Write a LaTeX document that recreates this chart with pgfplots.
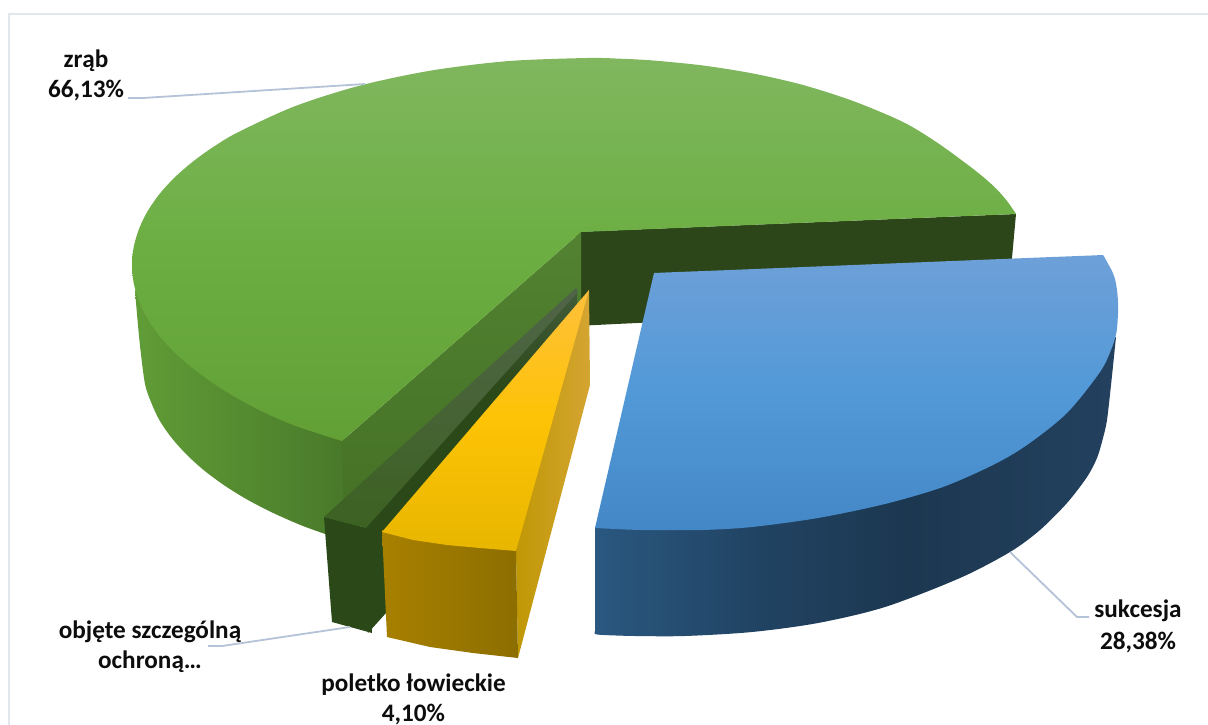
\documentclass[border=0pt]{standalone}
\usepackage{fontspec}
\setmainfont{Carlito}
\usepackage{pgfplots}
\pgfplotsset{compat=1.18}
\definecolor{gt1}{RGB}{98,160,54}\definecolor{gt2}{RGB}{108,174,66}\definecolor{gt3}{RGB}{128,183,95}
\definecolor{gs1}{RGB}{96,156,54}\definecolor{gs2}{RGB}{80,132,46}\definecolor{gs3}{RGB}{72,120,40}
\definecolor{gi1}{RGB}{68,112,36}\definecolor{gi2}{RGB}{82,130,50}
\definecolor{back}{RGB}{45,70,25}
\definecolor{dt1}{RGB}{60,98,34}\definecolor{dt2}{RGB}{80,100,72}
\definecolor{ds1}{RGB}{43,72,24}\definecolor{ds2}{RGB}{66,92,58}
\definecolor{df}{RGB}{43,72,24}
\definecolor{yt1}{RGB}{232,182,0}\definecolor{yt2}{RGB}{253,195,5}\definecolor{yt3}{RGB}{255,192,60}
\definecolor{ys1}{RGB}{190,150,0}\definecolor{ys2}{RGB}{212,165,50}
\definecolor{yf1}{RGB}{168,128,0}\definecolor{yf2}{RGB}{140,110,0}
\definecolor{bt1}{RGB}{68,135,198}\definecolor{bt2}{RGB}{82,153,216}\definecolor{bt3}{RGB}{110,160,216}
\definecolor{bs1}{RGB}{42,88,128}\definecolor{bs2}{RGB}{33,68,100}\definecolor{bs3}{RGB}{28,55,80}\definecolor{bs4}{RGB}{35,65,95}
\definecolor{leader}{RGB}{180,195,215}
\definecolor{frame}{RGB}{226,231,238}
\pgfdeclareverticalshading{sGreenTop}{100bp}{color(0bp)=(gt1); color(25bp)=(gt1); color(50bp)=(gt2); color(75bp)=(gt3); color(100bp)=(gt3)}
\pgfdeclarehorizontalshading{sGreenSide}{100bp}{color(0bp)=(gs1); color(25bp)=(gs1); color(60bp)=(gs2); color(75bp)=(gs3); color(100bp)=(gs3)}
\pgfdeclareverticalshading{sGreenIn}{100bp}{color(0bp)=(gi1); color(25bp)=(gi1); color(75bp)=(gi2); color(100bp)=(gi2)}
\pgfdeclareverticalshading{sDarkTop}{100bp}{color(0bp)=(dt1); color(25bp)=(dt1); color(75bp)=(dt2); color(100bp)=(dt2)}
\pgfdeclareverticalshading{sDarkSide}{100bp}{color(0bp)=(ds1); color(25bp)=(ds1); color(60bp)=(ds1); color(75bp)=(ds2); color(100bp)=(ds2)}
\pgfdeclareverticalshading{sYelTop}{100bp}{color(0bp)=(yt1); color(25bp)=(yt1); color(50bp)=(yt2); color(75bp)=(yt3); color(100bp)=(yt3)}
\pgfdeclarehorizontalshading{sYelSide}{100bp}{color(0bp)=(ys1); color(25bp)=(ys1); color(75bp)=(ys2); color(100bp)=(ys2)}
\pgfdeclarehorizontalshading{sYelFront}{100bp}{color(0bp)=(yf1); color(25bp)=(yf1); color(75bp)=(yf2); color(100bp)=(yf2)}
\pgfdeclareverticalshading{sBlueTop}{100bp}{color(0bp)=(bt1); color(25bp)=(bt1); color(50bp)=(bt2); color(75bp)=(bt3); color(100bp)=(bt3)}
\pgfdeclarehorizontalshading{sBlueSide}{100bp}{color(0bp)=(bs1); color(25bp)=(bs1); color(40bp)=(bs2); color(55bp)=(bs3); color(75bp)=(bs4); color(100bp)=(bs4)}
\newcommand{\lab}[3]{\node[anchor=base,inner sep=0pt,text=black!95] at (axis cs:#1,#2) {\fontsize{25.2}{30}\selectfont\bfseries #3};}
\begin{document}
\begin{tikzpicture}
\begin{axis}[width=1208pt,height=725pt,scale only axis,xmin=0,xmax=1208,ymin=0,ymax=725,y dir=reverse,axis lines=none,ticks=none]
% page extent
\addplot[draw=none,fill=white] coordinates {(0,0)(1208,0)(1208,725)(0,725)};
% frame
\addplot[frame,line width=1.5pt] coordinates {(9,725)(9,14)(1208,14)};
% green back cut face
\addplot[fill=back,draw=none] coordinates {(575,232)(1016,214)(1012,258)(1008,305)(575,326)};
% green outer side
\addplot[shading=sGreenSide,draw=none,smooth] coordinates {(135,290)(137.5,320)(140.5,350)(145,384)(150.8,401.5)(159,419.4)(170.8,436.8)(185.7,453.7)(203.6,470)(224.5,485.5)(248,500)(274.3,513.5)(303,526)(333.8,537)(345,541)(348,542)(348,500)(346,441)};
% green inner cut face
\addplot[shading=sGreenIn,draw=none] coordinates {(581,232)(342,441)(344,541)(581,330)};
% green top
\addplot[shading=sGreenTop,draw=none,smooth] coordinates {(581,232)(584,231.9)(590,231.6)(608,230.9)(662,228.6)(798,223)(935,217.3)(989,215.1)(1007,214.4)(1013,214.1)(1016,214)(1013,209.5)(1007,201)(997,189.5)(985,178.5)(970,166.5)(937,142.5)(903,122)(853,101)(803,85)(753,73.5)(703,65.5)(653,60.5)(620,58.7)(587,58)(508,61.1)(431.4,70.5)(359.5,85.7)(294.5,106.4)(238.5,132)(214.3,146.3)(193,161.5)(174.6,177.5)(159.4,194.2)(147.5,211.4)(139,229)(133.7,247)(132,265)(133.7,283)(139,301)(147.5,318.6)(159.4,335.8)(174.6,352.5)(193,368.5)(214.3,384)(238.5,399)(265.3,413)(294.5,425.5)(326,436)(342,441)};
% protected piece
\addplot[shading=sDarkSide,draw=none] coordinates {(360,528)(577,290)(578,400)(368,633)};
\addplot[fill=df,draw=none] coordinates {(324,517)(366,528)(372,633)(332,622)};
\addplot[shading=sDarkTop,draw=none] coordinates {(324,517)(366,528)(578,292)(576,288)};
% yellow
\addplot[shading=sYelSide,draw=none] coordinates {(589,290)(590,385)(518,658)(516,551)(508,550)(585,296)};
\addplot[shading=sYelFront,draw=none] coordinates {(382,530)(413,537)(447,542)(480,545)(516,548)(516,551)(518,658)(473,653)(430,647)(387,637)};
\addplot[shading=sYelTop,draw=none] coordinates {(589,290)(516,551)(480,548)(447,545)(413,540)(382,532)};
% blue
\addplot[shading=sBlueSide,draw=none,smooth] coordinates {(595,528)(595,531)(595,538)(595,560)(595,600)(595,626)(595,631)(595,634)(604,635)(635,636)(685,636)(752,632)(818,623)(885,607)(960,578)(1010,552)(1040,530)(1067,503)(1087,477)(1097,458)(1103,438)(1107,420)(1111,385)(1116,337)};
\addplot[shading=sBlueTop,draw=none,smooth] coordinates {(654,273)(657,272.9)(663,272.6)(681,271.9)(735,269.8)(878,264)(1022,258.2)(1076,256.1)(1094,255.4)(1100,255.1)(1103,255)(1106,260)(1109,265.5)(1112,271)(1115,279)(1117,290)(1118,302)(1118,313)(1116.5,332)(1111,350)(1100,372)(1067,413)(1027,445)(993,465)(943,487)(885,504)(818,518)(752,527)(702,530)(642,530)(605,528.5)(598,528.1)(595,528)};
% leaders
\addplot[leader,line width=1.8pt] coordinates {(128,98)(143,98)(365,84)};
\addplot[leader,line width=1.8pt] coordinates {(1089,617)(1077,617)(1010,552)};
\addplot[leader,line width=1.8pt] coordinates {(208,646)(222,646)(350,627)};
\lab{86}{68}{zrąb}
\lab{86}{98}{66,13\%}
\lab{150}{638}{objęte szczególną}
\lab{150}{668}{ochroną…}
\lab{413.5}{691}{poletko łowieckie}
\lab{413.5}{721.5}{4,10\%}
\lab{1138}{617}{sukcesja}
\lab{1138}{649}{28,38\%}
\end{axis}
\end{tikzpicture}
\end{document}
